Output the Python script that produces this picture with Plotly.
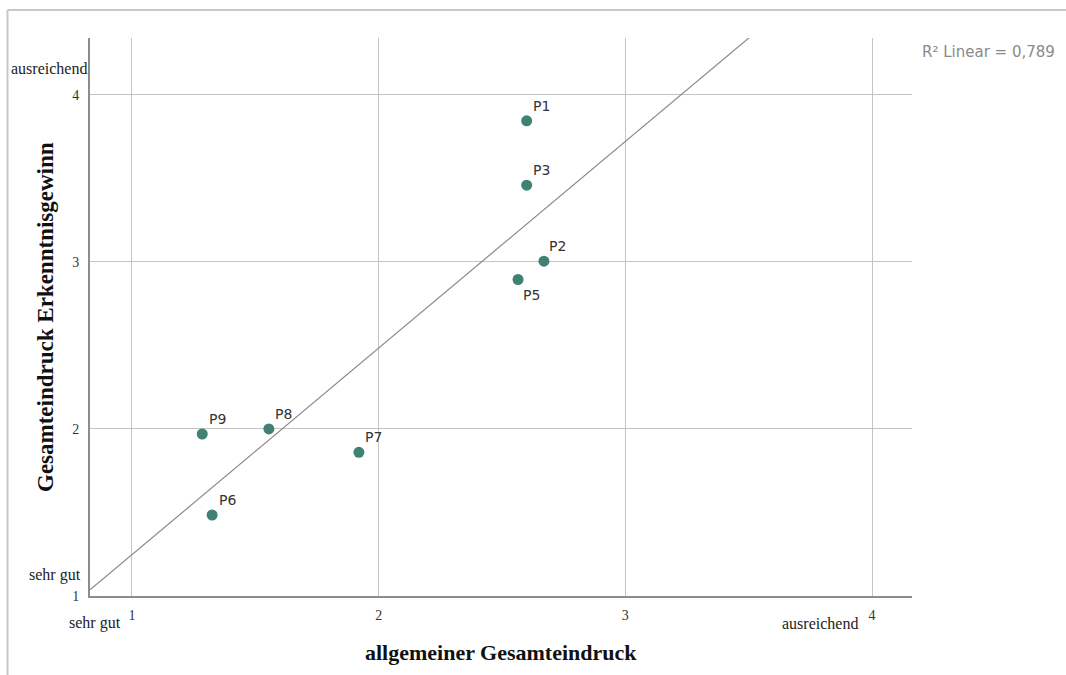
import numpy as np
import plotly.graph_objects as go

# Participants: overall impression (x) vs. overall knowledge gain (y)
labels = ["P1", "P2", "P3", "P5", "P6", "P7", "P8", "P9"]
x_overall = [2.60, 2.67, 2.60, 2.565, 1.325, 1.92, 1.555, 1.285]
y_gain = [3.845, 3.005, 3.46, 2.895, 1.485, 1.86, 2.0, 1.97]
r2_label = "0,789"

# label offsets (px) relative to each point
label_dx = [15, 14, 15, 13, 15, 15, 15, 15]
label_dy = [15, 15, 15, -15, 15, 15, 15, 15]

x_ticks = [1, 2, 3, 4]
y_ticks = [1, 2, 3, 4]
x_range = [0.83, 4.162]
y_range = [1.0, 4.341]

marker_color = "#3f8274"
serif = "Liberation Serif, Times New Roman, serif"
sans = "DejaVu Sans, Verdana, sans-serif"

# linear fit line
slope, intercept = np.polyfit(x_overall, y_gain, 1)
fit_x = np.array(x_range)
fit_y = slope * fit_x + intercept

fig = go.Figure()
fig.add_trace(go.Scatter(
    x=fit_x, y=fit_y, mode="lines",
    line=dict(color="#8a8a8a", width=1.2),
    hoverinfo="skip", showlegend=False,
))
fig.add_trace(go.Scatter(
    x=x_overall, y=y_gain, mode="markers",
    marker=dict(color=marker_color, size=11, line=dict(width=0)),
    showlegend=False,
))

annotations = []
for lab, xv, yv, dx, dy in zip(labels, x_overall, y_gain, label_dx, label_dy):
    annotations.append(dict(
        x=xv, y=yv, xref="x", yref="y", text=lab, showarrow=False,
        xshift=dx, yshift=dy, font=dict(family=sans, size=14, color="#333333"),
    ))

# scale end labels
end_font = dict(family=serif, size=16, color="#222222")
annotations += [
    dict(x=0, y=4.16, xref="paper", yref="y", text="ausreichend", showarrow=False,
         xanchor="right", yanchor="middle", xshift=-1, font=end_font),
    dict(x=0, y=1.126, xref="paper", yref="y", text="sehr gut", showarrow=False,
         xanchor="right", yanchor="middle", xshift=-7, font=end_font),
    dict(x=0.963, y=0, xref="x", yref="paper", text="sehr gut", showarrow=False,
         xanchor="right", yanchor="middle", yshift=-27, font=end_font),
    dict(x=3.95, y=0, xref="x", yref="paper", text="ausreichend", showarrow=False,
         xanchor="right", yanchor="middle", yshift=-27, font=end_font),
    # axis titles
    dict(x=0.5, y=0, xref="paper", yref="paper", text="<b>allgemeiner Gesamteindruck</b>",
         showarrow=False, xanchor="center", yanchor="middle", yshift=-56,
         font=dict(family=serif, size=22, color="#111111")),
    dict(x=0, y=0.5, xref="paper", yref="paper", text="<b>Gesamteindruck Erkenntnisgewinn</b>",
         showarrow=False, xanchor="center", yanchor="middle", xshift=-45, textangle=-90,
         font=dict(family=serif, size=23, color="#111111")),
    # fit quality
    dict(x=1.0097, y=0.975, xref="paper", yref="paper",
         text="R\u00b2 Linear = " + r2_label, showarrow=False,
         xanchor="left", yanchor="middle",
         font=dict(family=sans, size=15, color="#8a8a8a")),
]

fig.update_layout(
    width=1066, height=675,
    margin=dict(l=90, r=154, t=38, b=79),
    paper_bgcolor="white", plot_bgcolor="white",
    annotations=annotations,
    shapes=[
        dict(type="line", xref="paper", yref="paper", x0=-0.1004, x1=-0.1004,
             y0=1.0502, y1=-0.2, line=dict(color="#c8c8c8", width=2)),
        dict(type="line", xref="paper", yref="paper", x0=-0.1004, x1=1.2,
             y0=1.0502, y1=1.0502, line=dict(color="#c8c8c8", width=2)),
    ],
)
fig.update_xaxes(
    range=x_range, tickvals=x_ticks, ticktext=[str(v) for v in x_ticks],
    showgrid=True, gridcolor="#c4c4c4", gridwidth=1, zeroline=False,
    showline=True, linecolor="#8c8c8c", linewidth=2, ticks="",
    ticklabelstandoff=5,
    tickfont=dict(family=serif, size=14, color="#333333"),
)
fig.update_yaxes(
    range=y_range, tickvals=y_ticks, ticktext=[str(v) for v in y_ticks],
    showgrid=True, gridcolor="#c4c4c4", gridwidth=1, zeroline=False,
    showline=True, linecolor="#8c8c8c", linewidth=2, ticks="",
    ticklabelstandoff=6,
    tickfont=dict(family=serif, size=14, color="#333333"),
)

fig.write_html("out.html")
